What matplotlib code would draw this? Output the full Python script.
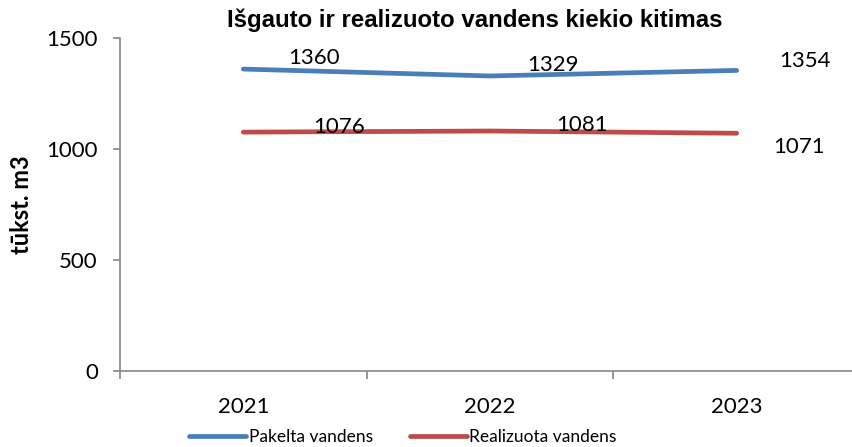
import numpy as np
import matplotlib.pyplot as plt

metai = ['2021', '2022', '2023']
pakelta = [1360, 1329, 1354]
realizuota = [1076, 1081, 1071]

# label offsets in points (dx, dy)
off_pak = [(51, 8), (45, 8), (49, 7)]
off_real = [(69, 4), (66, 4), (45, -10)]

fig = plt.figure(figsize=(8.52, 4.47), dpi=100)
ax = fig.add_axes([120/852, 76/447, 740/852, 333/447])

x = np.arange(len(metai))
ax.plot(x, pakelta, color='#4A7EBB', lw=3.4, solid_capstyle='round', label='Pakelta vandens')
ax.plot(x, realizuota, color='#BE4B48', lw=3.4, solid_capstyle='round', label='Realizuota vandens')

for i in range(len(metai)):
    ax.annotate(str(pakelta[i]), (x[i], pakelta[i]), xytext=off_pak[i], textcoords='offset points',
                ha='center', va='center', fontsize=16, family='Lato')
    ax.annotate(str(realizuota[i]), (x[i], realizuota[i]), xytext=off_real[i], textcoords='offset points',
                ha='center', va='center', fontsize=16, family='Lato')

ax.set_xlim(-0.5, 2.5)
ax.set_ylim(0, 1500)
ax.set_yticks([0, 500, 1000, 1500])
ax.set_xticks(x)
ax.set_xticklabels(metai)
ax.set_xticks([-0.5, 0.5, 1.5, 2.5], minor=True)
ax.tick_params(axis='x', which='major', length=0, pad=19, labelsize=16)
ax.tick_params(axis='x', which='minor', length=6, color='#868686', width=1.2)
ax.tick_params(axis='y', length=5, color='#868686', width=1.2, labelsize=16, pad=11)
for lbl in ax.get_xticklabels() + ax.get_yticklabels():
    lbl.set_family('Lato')

for s in ['top', 'right']:
    ax.spines[s].set_visible(False)
for s in ['left', 'bottom']:
    ax.spines[s].set_color('#868686')
    ax.spines[s].set_linewidth(1.2)

fig.text(475/852, 1 - 20/447, 'Išgauto ir realizuoto vandens kiekio kitimas', ha='center', va='center',
         fontsize=17.3, fontweight='bold', family='Liberation Sans')
fig.text(22/852, 1 - 205/447, 'tūkst. m3', rotation=90, ha='center', va='center',
         fontsize=17, fontweight='bold', family='Lato')

leg = fig.legend(loc='center', bbox_to_anchor=(403/852, 1 - 437/447), ncol=2, frameon=False,
                 prop={'family': 'Lato', 'size': 12.5}, handlelength=3.3, handletextpad=0.15,
                 columnspacing=2.1)

plt.savefig('out.png', dpi=100)
